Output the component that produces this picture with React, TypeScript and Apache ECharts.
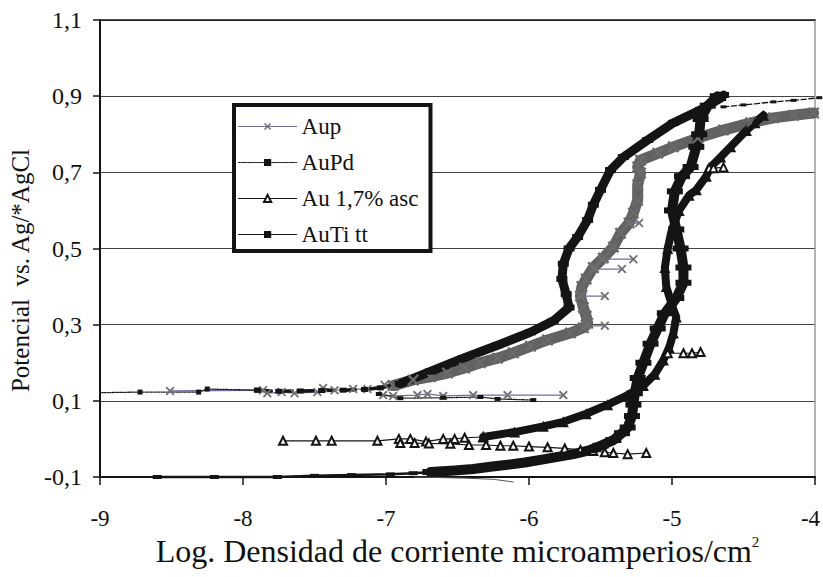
import React, { useEffect, useRef } from 'react';
import * as echarts from 'echarts';

// ---------- data (log current density, potential) ----------
const seriesNames = ['Aup', 'AuPd', 'Au 1,7% asc', 'AuTi tt'];
const xTickValues = [-9, -8, -7, -6, -5, -4];
const yTickValues = [-0.1, 0.1, 0.3, 0.5, 0.7, 0.9, 1.1];

// Aup
const aupStart = [[-8.51,0.126],[-7.86,0.128],[-7.83,0.12],[-7.73,0.123],[-7.64,0.12],[-7.48,0.123],[-7.44,0.134],[-7.36,0.128],[-7.23,0.131],[-7.13,0.131],[-7.01,0.142],[-6.95,0.14]];
const aupReturn = [[-7.02,0.115],[-6.95,0.113],[-6.78,0.115],[-6.71,0.118],[-6.6,0.113],[-6.39,0.115],[-6.15,0.115],[-5.76,0.115]];
const aupBand = [[-6.95,0.14],[-6.81,0.155],[-6.69,0.163],[-6.57,0.173],[-6.45,0.186],[-6.34,0.2],[-6.22,0.212],[-6.11,0.226],[-5.99,0.243],[-5.87,0.26],[-5.71,0.278],[-5.62,0.292],[-5.59,0.304],[-5.6,0.322],[-5.62,0.345],[-5.64,0.375],[-5.63,0.4],[-5.6,0.42],[-5.55,0.45],[-5.48,0.475],[-5.41,0.504],[-5.36,0.54],[-5.3,0.567],[-5.27,0.593],[-5.24,0.627],[-5.24,0.667],[-5.22,0.698],[-5.24,0.714],[-5.22,0.732],[-5.1,0.75],[-4.99,0.767],[-4.82,0.79],[-4.64,0.811],[-4.45,0.83],[-4.29,0.843],[-4.15,0.85],[-4.01,0.856]];
const aupSpikes = [
  [[-5.6,0.297],[-5.47,0.297]],
  [[-5.64,0.375],[-5.47,0.375]],
  [[-5.54,0.446],[-5.35,0.446]],
  [[-5.49,0.472],[-5.27,0.472]],
  [[-5.3,0.567],[-5.23,0.567]],
];

// AuPd
const pdStart = [[-8.72,0.123],[-8.31,0.123],[-8.25,0.131],[-7.9,0.128]];
const pdLead = [[-9.06,0.121],[-8.72,0.123]];
const pdFlat = [[-7.9,0.128],[-7.75,0.125],[-7.6,0.126],[-7.45,0.127],[-7.3,0.128],[-7.15,0.13],[-7.04,0.134],[-6.9,0.145]];
const pdBand = [[-6.9,0.145],[-6.69,0.177],[-6.46,0.212],[-6.22,0.246],[-5.99,0.28],[-5.83,0.31],[-5.72,0.345],[-5.74,0.38],[-5.77,0.42],[-5.76,0.46],[-5.72,0.5],[-5.66,0.53],[-5.59,0.575],[-5.55,0.615],[-5.5,0.654],[-5.43,0.706],[-5.34,0.74],[-5.17,0.785],[-4.99,0.83],[-4.8,0.864],[-4.66,0.895],[-4.64,0.903]];
const pdEnd = [[-4.64,0.872],[-4.5,0.877],[-4.29,0.885],[-4.15,0.889],[-3.97,0.896]];
const pdReturn = [[-7.05,0.118],[-6.9,0.107],[-6.6,0.108],[-6.34,0.11],[-6.22,0.105],[-5.97,0.102]];

// Au 1,7% asc
const au1Flat = [[-7.72,-0.005],[-7.49,-0.005],[-7.38,-0.005],[-7.06,-0.005],[-6.91,0.0],[-6.83,0.0],[-6.72,-0.007],[-6.6,0.0],[-6.52,0.0],[-6.45,0.003],[-6.32,0.005]];
const au1Return = [[-6.9,-0.011],[-6.8,-0.011],[-6.7,-0.012],[-6.55,-0.013],[-6.42,-0.016],[-6.3,-0.016],[-6.2,-0.018],[-6.11,-0.018],[-6.0,-0.02],[-5.87,-0.022],[-5.75,-0.025],[-5.64,-0.029],[-5.55,-0.032],[-5.47,-0.035],[-5.41,-0.037],[-5.31,-0.04],[-5.18,-0.037]];
const au1Band = [[-6.32,0.005],[-6.1,0.018],[-5.9,0.033],[-5.76,0.045],[-5.6,0.066],[-5.45,0.09],[-5.32,0.113],[-5.2,0.14],[-5.12,0.17],[-5.06,0.207],[-5.02,0.24],[-4.99,0.278],[-4.97,0.32],[-5.0,0.35],[-5.04,0.4],[-5.05,0.45],[-5.03,0.5],[-5.0,0.55],[-4.95,0.6],[-4.88,0.64],[-4.83,0.654],[-4.76,0.69],[-4.73,0.714],[-4.66,0.74],[-4.59,0.767],[-4.48,0.81],[-4.42,0.83],[-4.36,0.85]];
const au1Spikes = [
  [[-5.03,0.225],[-4.92,0.225],[-4.86,0.225],[-4.8,0.228]],
  [[-4.74,0.711],[-4.71,0.711],[-4.64,0.713]],
];

// AuTi tt
const tiLow = [[-8.6,-0.1],[-8.2,-0.1],[-7.76,-0.1],[-7.5,-0.097],[-7.24,-0.095],[-6.97,-0.093],[-6.81,-0.09],[-6.69,-0.087]];
const tiBand = [[-6.69,-0.087],[-6.52,-0.083],[-6.39,-0.079],[-6.27,-0.073],[-6.15,-0.068],[-6.03,-0.062],[-5.92,-0.055],[-5.8,-0.047],[-5.69,-0.04],[-5.58,-0.03],[-5.5,-0.018],[-5.41,-0.003],[-5.35,0.015],[-5.31,0.03],[-5.28,0.06],[-5.27,0.09],[-5.26,0.12],[-5.24,0.16],[-5.2,0.2],[-5.15,0.25],[-5.1,0.29],[-5.05,0.33],[-4.97,0.37],[-4.92,0.41],[-4.92,0.45],[-4.94,0.5],[-4.97,0.55],[-5.0,0.6],[-4.98,0.65],[-4.93,0.69],[-4.87,0.714],[-4.83,0.767],[-4.81,0.8],[-4.8,0.84],[-4.75,0.875],[-4.68,0.9]];
const tiTail = [[-6.8,-0.1],[-6.45,-0.103],[-6.25,-0.106],[-6.11,-0.113]];

// ---------- styling ----------
const FONT = "'Liberation Serif', 'Times New Roman', serif";
const X_SYMBOL = 'path://M0,1.4L1.4,0L5,3.6L8.6,0L10,1.4L6.4,5L10,8.6L8.6,10L5,6.4L1.4,10L0,8.6L3.6,5Z';
const BLACK = '#141414';
const GRAY = '#626262';
const PURPLE = '#6f6f9c';

type St = {
  color: string; width: number; type?: string; symbol: string;
  size: number | number[]; symColor?: string; border?: number;
};

const mk = (name: string, data: number[][], s: St) => ({
  type: 'line',
  name,
  data,
  silent: true,
  clip: false,
  symbol: s.symbol,
  symbolSize: s.size,
  showAllSymbol: true,
  lineStyle: { color: s.color, width: s.width, type: s.type || 'solid', cap: 'round', join: 'round' },
  itemStyle: { color: s.symColor || s.color, borderColor: s.symColor || s.color, borderWidth: s.border || 0 },
  emphasis: { disabled: true },
});

const fmtY = (v: number) => Number(v).toFixed(1).replace('.', ',');
const xMax = xTickValues[xTickValues.length - 1];
const fmtX = (v: number) => (v === xMax ? `{last|${v}}` : String(v));

function buildOption() {
  const series: any[] = [];
  // Aup
  series.push(mk(seriesNames[0], aupStart, { color: PURPLE, width: 1.3, symbol: X_SYMBOL, size: 9, symColor: '#707070' }));
  series.push(mk(seriesNames[0], aupReturn, { color: PURPLE, width: 1.3, symbol: X_SYMBOL, size: 9, symColor: '#707070' }));
  series.push(mk(seriesNames[0], aupBand, { color: GRAY, width: 11, symbol: X_SYMBOL, size: 12, symColor: '#6a6a6a' }));
  aupSpikes.forEach((d) => series.push(mk(seriesNames[0], d, { color: PURPLE, width: 1.3, symbol: X_SYMBOL, size: 9, symColor: '#707070' })));
  // AuPd
  series.push(mk(seriesNames[1], pdStart, { color: BLACK, width: 1.3, type: 'dotted', symbol: 'rect', size: 5 }));
  series.push(mk(seriesNames[1], pdLead, { color: BLACK, width: 1.3, type: 'dotted', symbol: 'none', size: 0 }));
  series.push(mk(seriesNames[1], pdFlat, { color: BLACK, width: 3.5, type: 'dashed', symbol: 'rect', size: [7, 5] }));
  series.push(mk(seriesNames[1], pdBand, { color: BLACK, width: 9, symbol: 'rect', size: [11, 6] }));
  series.push(mk(seriesNames[1], pdEnd, { color: BLACK, width: 1.3, type: 'dashed', symbol: 'rect', size: [6, 3] }));
  series.push(mk(seriesNames[1], pdReturn, { color: BLACK, width: 1.3, type: 'dotted', symbol: 'rect', size: [6, 4] }));
  // Au 1,7% asc
  series.push(mk(seriesNames[2], au1Flat, { color: BLACK, width: 1.2, symbol: 'emptyTriangle', size: 8, border: 1.3 }));
  series.push(mk(seriesNames[2], au1Return, { color: BLACK, width: 1.2, symbol: 'emptyTriangle', size: 8, border: 1.3 }));
  series.push(mk(seriesNames[2], au1Band, { color: BLACK, width: 8, symbol: 'triangle', size: 11 }));
  au1Spikes.forEach((d) => series.push(mk(seriesNames[2], d, { color: BLACK, width: 1.2, symbol: 'emptyTriangle', size: 8, border: 1.3 })));
  // AuTi tt
  series.push(mk(seriesNames[3], tiLow, { color: BLACK, width: 2.5, symbol: 'rect', size: [9, 4] }));
  series.push(mk(seriesNames[3], tiBand, { color: BLACK, width: 10, symbol: 'rect', size: [16, 6] }));
  series.push(mk(seriesNames[3], tiTail, { color: '#555', width: 1, symbol: 'none', size: 0 }));

  return {
    animation: false,
    backgroundColor: '#fff',
    grid: { left: 100, right: 8, top: 20, bottom: 100, containLabel: false, outerBoundsMode: 'none' },
    legend: {
      data: seriesNames,
      orient: 'vertical',
      left: 234,
      top: 105,
      itemWidth: 58,
      itemHeight: 9,
      itemGap: 13,
      padding: [10, 12, 5, 4],
      backgroundColor: '#fff',
      borderColor: BLACK,
      borderWidth: 4,
      borderRadius: 0,
      selectedMode: false,
      textStyle: { fontFamily: FONT, fontSize: 23, color: '#111' },
      lineStyle: { width: 1.2 },
    },
    xAxis: [
      {
        type: 'value', min: xTickValues[0], max: xMax, interval: 1,
        axisLine: { show: true, onZero: false, lineStyle: { color: BLACK, width: 2 } },
        axisTick: { show: true, length: 8, lineStyle: { color: BLACK, width: 1.5 } },
        axisLabel: {
          fontFamily: FONT, fontSize: 23, color: '#111', margin: 30, formatter: fmtX,
          rich: { last: { fontFamily: FONT, fontSize: 23, color: '#111', padding: [0, 9, 0, 0] } },
        },
        splitLine: { show: false },
        name: 'Log. Densidad de corriente microamperios/cm{sup|2}',
        nameLocation: 'middle',
        nameGap: 57,
        nameTextStyle: {
          fontFamily: FONT, fontSize: 32, color: '#111',
          rich: { sup: { fontFamily: FONT, fontSize: 15, color: '#111', verticalAlign: 'top' } },
        },
      },
      {
        type: 'value', position: 'top', min: xTickValues[0], max: xMax, interval: 1,
        axisLine: { show: true, onZero: false, lineStyle: { color: BLACK, width: 1.5 } },
        axisTick: { show: false }, axisLabel: { show: false }, splitLine: { show: false },
      },
    ],
    yAxis: [
      {
        type: 'value', min: yTickValues[0], max: yTickValues[yTickValues.length - 1], interval: 0.2,
        axisLine: { show: true, onZero: false, lineStyle: { color: BLACK, width: 2 } },
        axisTick: { show: true, length: 7, lineStyle: { color: BLACK, width: 1.5 } },
        axisLabel: { fontFamily: FONT, fontSize: 24, color: '#111', margin: 18, formatter: fmtY },
        splitLine: { show: true, lineStyle: { color: '#444', width: 1 } },
        name: 'Potencial  vs. Ag/*AgCl',
        nameLocation: 'middle',
        nameGap: 58,
        nameTextStyle: { fontFamily: FONT, fontSize: 25, color: '#111', padding: [0, 44, 0, 0] },
      },
      {
        type: 'value', position: 'right', min: yTickValues[0], max: yTickValues[yTickValues.length - 1], interval: 0.2,
        axisLine: { show: true, onZero: false, lineStyle: { color: '#999', width: 1.5 } },
        axisTick: { show: false }, axisLabel: { show: false }, splitLine: { show: false },
      },
    ],
    series,
  };
}

export default function App() {
  const ref = useRef<HTMLDivElement>(null);
  useEffect(() => {
    if (!ref.current) return;
    const chart = echarts.init(ref.current, undefined, { renderer: 'svg' });
    chart.setOption(buildOption() as any);
    return () => chart.dispose();
  }, []);
  return (
    <div
      ref={ref}
      style={{ position: 'fixed', left: 0, top: 0, width: 823, height: 577, background: '#fff' }}
    />
  );
}
